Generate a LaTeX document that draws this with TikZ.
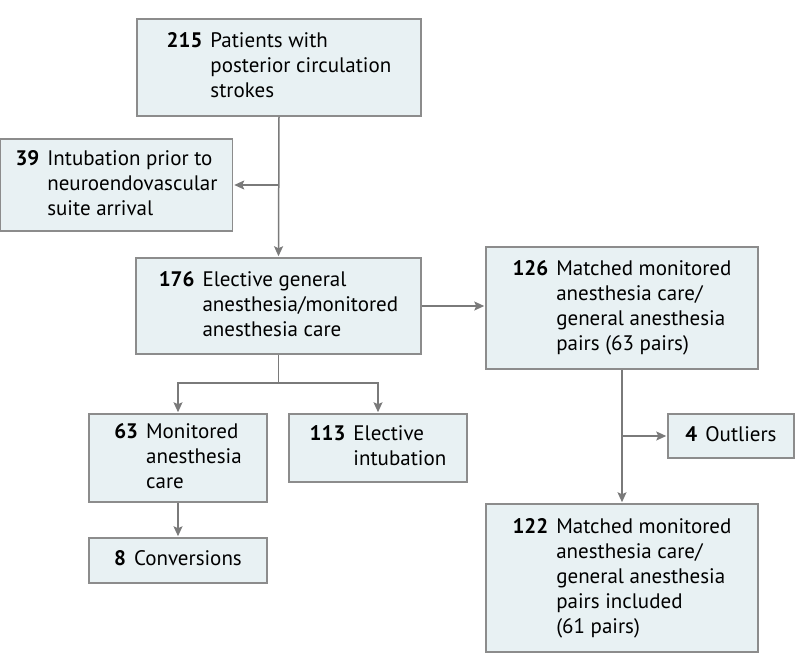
\documentclass[tikz,border=0pt]{standalone}
\usepackage{fontspec}
\setmainfont{PT Sans}
\usepackage{tikz}
\usetikzlibrary{arrows.meta}
\definecolor{boxfill}{HTML}{E8F1F3}
\definecolor{boxline}{HTML}{8C8C8C}
\definecolor{linkgray}{HTML}{7A7A7A}
\newcommand{\entry}[2]{\textbf{#1}\hspace{8pt}\begin{tabular}[t]{@{}l@{}}#2\end{tabular}}

\begin{document}
\begin{tikzpicture}[x=1pt,y=-1pt,->,>={Stealth[length=10pt,width=9pt,inset=2pt]},
                    line width=1.5pt,font=\fontsize{21}{25}\selectfont]
  \tikzstyle{flowbox}=[draw=boxline,fill=boxfill,inner sep=0pt,align=left]
  \tikzstyle{link}=[draw=linkgray,shorten >=1pt]

  \useasboundingbox (0,0) rectangle (798,672);

  \node[flowbox,minimum width=284pt,minimum height=97pt]  (pts)  at (279,67.5)
       {\entry{215}{Patients with\\posterior circulation\\strokes}};
  \node[flowbox,minimum width=232pt,minimum height=92pt]  (intub) at (116.5,185)
       {\entry{39}{Intubation prior to\\neuroendovascular\\suite arrival}};
  \node[flowbox,minimum width=285pt,minimum height=96pt]  (elect) at (278.5,306)
       {\entry{176}{Elective general\\anesthesia/monitored\\anesthesia care}};
  \node[flowbox,minimum width=272pt,minimum height=122pt] (match) at (622,308)
       {\entry{126}{Matched monitored\\anesthesia care/\\general anesthesia\\pairs (63 pairs)}};
  \node[flowbox,minimum width=178pt,minimum height=88pt]  (mac)   at (178,458)
       {\entry{63}{Monitored\\anesthesia\\care}};
  \node[flowbox,minimum width=178pt,minimum height=68pt]  (ei)    at (378,448)
       {\entry{113}{Elective\\intubation}};
  \node[flowbox,minimum width=178pt,minimum height=45pt]  (conv)  at (178,560.5)
       {\entry{8}{Conversions}};
  \node[flowbox,minimum width=126pt,minimum height=44pt]  (outl)  at (731,436)
       {\entry{4}{Outliers}};
  \node[flowbox,minimum width=272pt,minimum height=148pt] (incl)  at (622,578)
       {\entry{122}{Matched monitored\\anesthesia care/\\general anesthesia\\pairs included\\(61 pairs)}};

  % branch points
  \coordinate (b1) at (pts.south |- intub.east);
  \coordinate (b2) at ([yshift=-28pt]elect.south);
  \coordinate (b3) at (match.south |- outl.west);

  \path (pts.south) edge[link] (elect.north)
        (b1) edge[link] (intub.east)
        (elect.east) edge[link] (match.west |- elect.east)
        (mac.south) edge[link] (conv.north)
        (match.south) edge[link] (incl.north)
        (b3) edge[link] (outl.west);
  \draw[link,-] (elect.south) -- (b2);
  \draw[link] (b2) -| (mac.north);
  \draw[link] (b2) -| (ei.north);
\end{tikzpicture}
\end{document}
